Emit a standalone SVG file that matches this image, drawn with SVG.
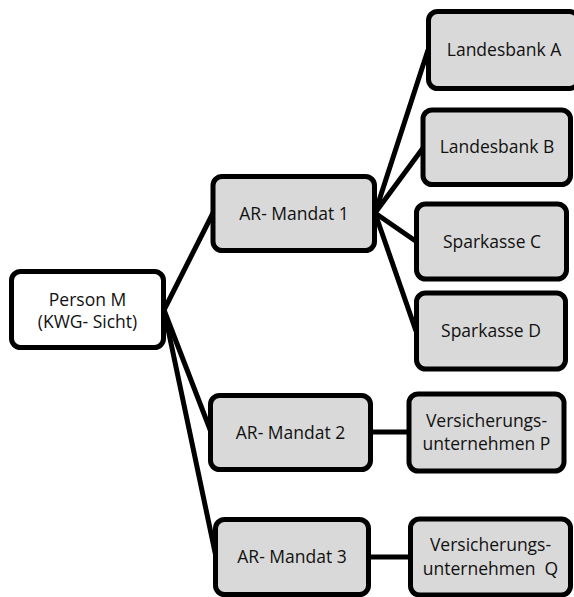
<svg xmlns="http://www.w3.org/2000/svg" width="574" height="597" viewBox="0 0 574 597">
<style>
.box{fill:#d9d9d9;stroke:#000;stroke-width:5}
.wbox{fill:#fff;stroke:#000;stroke-width:5}
.t{font-family:"Open Sans","Liberation Sans",sans-serif;font-size:17.5px;fill:#111;text-anchor:middle;white-space:pre}
.c{stroke:#000;stroke-width:5;fill:none;stroke-linecap:round}
</style>
<rect width="574" height="597" fill="#fff"/>
<g id="connectors">
<line class="c" x1="164" y1="310" x2="213" y2="213"/>
<line class="c" x1="164" y1="310" x2="211" y2="432"/>
<line class="c" x1="164" y1="310" x2="216" y2="557"/>
<line class="c" x1="375" y1="213" x2="428" y2="50"/>
<line class="c" x1="375" y1="213" x2="423" y2="148"/>
<line class="c" x1="375" y1="213" x2="417" y2="242"/>
<line class="c" x1="375" y1="213" x2="416" y2="331"/>
<line class="c" x1="371" y1="432" x2="409" y2="432"/>
<line class="c" x1="369" y1="557" x2="410" y2="557"/>
</g>
<g id="person-m">
<rect class="wbox" x="11.5" y="271.5" width="152" height="76" rx="9"/>
<text class="t" x="87.5" y="306">Person M</text>
<text class="t" x="87.5" y="328">(KWG- Sicht)</text>
</g>
<g id="ar-mandat-1">
<rect class="box" x="213" y="176.5" width="161.5" height="74" rx="9"/>
<text class="t" x="294" y="220">AR- Mandat 1</text>
</g>
<g id="ar-mandat-2">
<rect class="box" x="210.5" y="395.5" width="160" height="74" rx="9"/>
<text class="t" x="290.5" y="438.5">AR- Mandat 2</text>
</g>
<g id="ar-mandat-3">
<rect class="box" x="215.5" y="519.5" width="153" height="75" rx="9"/>
<text class="t" x="292" y="563">AR- Mandat 3</text>
</g>
<g id="landesbank-a">
<rect class="box" x="428.5" y="11.5" width="150" height="77" rx="9"/>
<text class="t" x="504" y="56">Landesbank A</text>
</g>
<g id="landesbank-b">
<rect class="box" x="423" y="110" width="147.5" height="74.5" rx="9"/>
<text class="t" x="497" y="153">Landesbank B</text>
</g>
<g id="sparkasse-c">
<rect class="box" x="416.5" y="204" width="150" height="75" rx="9"/>
<text class="t" x="492" y="247.5">Sparkasse C</text>
</g>
<g id="sparkasse-d">
<rect class="box" x="416.5" y="293" width="149" height="76" rx="9"/>
<text class="t" x="491" y="337">Sparkasse D</text>
</g>
<g id="versicherung-p">
<rect class="box" x="409" y="394" width="155" height="77" rx="9"/>
<text class="t" x="486.5" y="427">Versicherungs-</text>
<text class="t" x="486.5" y="450">unternehmen P</text>
</g>
<g id="versicherung-q">
<rect class="box" x="410.5" y="519" width="160" height="76" rx="9"/>
<text class="t" x="490.5" y="551">Versicherungs-</text>
<text class="t" x="490.5" y="575">unternehmen  Q</text>
</g>
</svg>
